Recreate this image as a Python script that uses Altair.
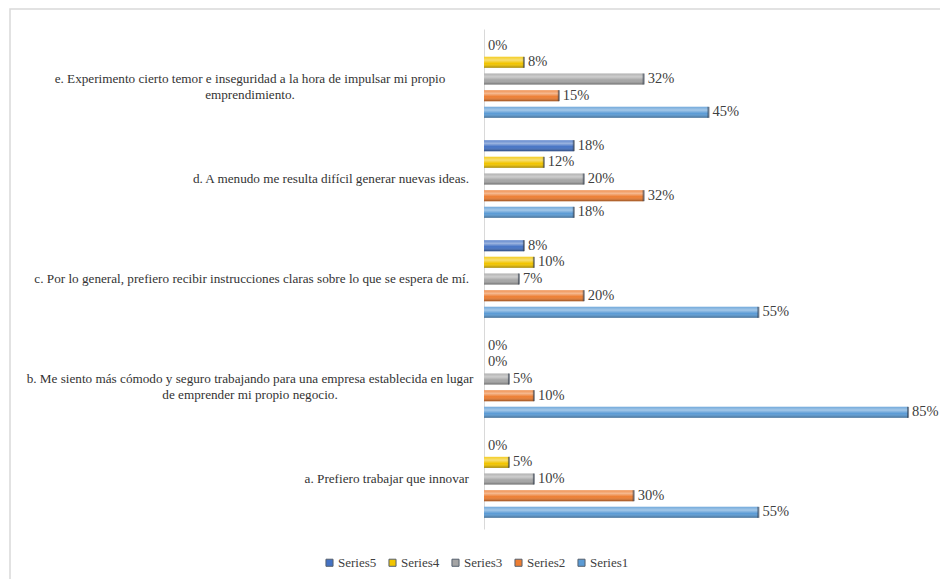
import altair as alt
import pandas as pd

categories = [
    "e. Experimento cierto temor e inseguridad a la hora de impulsar mi propio\nemprendimiento.",
    "d. A menudo me resulta difícil generar nuevas ideas.",
    "c. Por lo general, prefiero recibir instrucciones claras sobre lo que se espera de mí.",
    "b. Me siento más cómodo y seguro trabajando para una empresa establecida en lugar\nde emprender mi propio negocio.",
    "a. Prefiero trabajar que innovar",
]
series_names = ["Series5", "Series4", "Series3", "Series2", "Series1"]
series5 = [0, 18, 8, 0, 0]
series4 = [8, 12, 10, 0, 5]
series3 = [32, 20, 7, 5, 10]
series2 = [15, 32, 20, 10, 30]
series1 = [45, 18, 55, 85, 55]
colors = ["#4472C4", "#F2C500", "#A5A5A5", "#ED7D31", "#5B9BD5"]

rows = []
for name, vals in zip(series_names, [series5, series4, series3, series2, series1]):
    for c, v in zip(categories, vals):
        rows.append({"cat": c, "series": name, "value": v})
df = pd.DataFrame(rows)
cat_df = pd.DataFrame({"cat": categories})

FONT = "Liberation Serif"
yaxis = alt.Axis(labels=False, ticks=False, title=None, grid=False,
                 domainColor="#d9d9d9", domainWidth=1)
yenc = alt.Y("cat:N", sort=categories,
             scale=alt.Scale(paddingInner=0.1667, paddingOuter=0.0833), axis=yaxis)
xenc = alt.X("value:Q", scale=alt.Scale(domain=[0, 91], nice=False, zero=True), axis=None)
yoff = alt.YOffset("series:N", sort=series_names,
                   scale=alt.Scale(paddingInner=0.34, paddingOuter=0.17))

base = alt.Chart(df)

bars = base.mark_bar(cornerRadius=0).encode(
    x=xenc, y=yenc, yOffset=yoff,
    color=alt.Color("series:N", scale=alt.Scale(domain=series_names, range=colors),
                    legend=alt.Legend(orient="none", legendX=-161, legendY=527,
                                      direction="horizontal", title=None,
                                      symbolType="square", symbolSize=50,
                                      symbolStrokeWidth=1, symbolStrokeColor="#55606e",
                                      labelFont=FONT, labelFontSize=13,
                                      labelColor="#404040", columnPadding=9,
                                      labelOffset=2)),
)

shade = base.mark_bar(
    color=alt.Gradient(
        gradient="linear", x1=0, x2=0, y1=0, y2=1,
        stops=[
            alt.GradientStop(offset=0, color="rgba(255,255,255,0.15)"),
            alt.GradientStop(offset=0.3, color="rgba(255,255,255,0.45)"),
            alt.GradientStop(offset=0.6, color="rgba(255,255,255,0.0)"),
            alt.GradientStop(offset=1, color="rgba(0,0,0,0.35)"),
        ],
    )
).encode(x=xenc, y=yenc, yOffset=yoff)

caps = base.transform_filter("datum.value > 0").mark_tick(
    color="#1f2a3a", opacity=0.55, thickness=2, orient="vertical"
).encode(x=xenc, y=yenc, yOffset=yoff)

pct = base.transform_calculate(lbl="datum.value + '%'").mark_text(
    align="left", baseline="middle", dx=4, font=FONT, fontSize=14.5, color="#404040"
).encode(x=xenc, y=yenc, yOffset=yoff, text="lbl:N")

cat_single = alt.Chart(cat_df).transform_filter(
    "indexof(datum.cat, '\\n') < 0"
).mark_text(align="right", baseline="middle", font=FONT, fontSize=13.2,
            color="#333333").encode(
    x=alt.value(-15), y=yenc, text="cat:N"
)

cat_wrap = alt.Chart(cat_df).transform_filter(
    "indexof(datum.cat, '\\n') >= 0"
).mark_text(align="center", baseline="middle", font=FONT, fontSize=13.2,
            color="#333333", lineBreak="\n", lineHeight=16).encode(
    x=alt.value(-234), y=yenc, text="cat:N"
)

frame = alt.Chart(pd.DataFrame({"a": [0]})).mark_rect(
    fill=None, stroke="#d9d9d9", strokeWidth=1.5
).encode(x=alt.value(-474), x2=alt.value(470), y=alt.value(-20), y2=alt.value(560))

chart = alt.layer(frame, bars, shade, caps, pct, cat_single, cat_wrap).properties(
    width=454, height=500,
    autosize=alt.AutoSizeParams(type="none"),
    padding={"left": 484, "top": 29, "right": 2, "bottom": 50},
    background="white",
).configure_view(stroke=None)

chart.save("out.html", embed_options={"renderer": "svg", "actions": False})
